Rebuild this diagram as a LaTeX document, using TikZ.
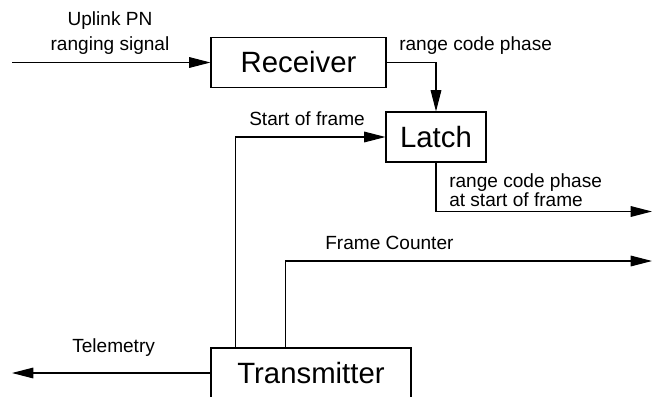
\documentclass[tikz,border=0pt]{standalone}
\usepackage{fontspec}
\setmainfont{Liberation Sans}
\usetikzlibrary{arrows.meta, positioning, calc}

\begin{document}
\begin{tikzpicture}[
    x=0.75pt, y=-0.75pt,
    blk/.style={draw, line width=0.8pt, inner sep=0pt, font=\fontsize{22}{26}\selectfont},
    sig/.style={-{Triangle[length=16pt, width=8pt]}, line width=0.8pt},
    lbl/.style={inner sep=0pt, font=\fontsize{14.3}{18.2}\selectfont},
    lbltight/.style={inner sep=0pt, align=left, font=\fontsize{14.3}{14.3}\selectfont}
]
    \useasboundingbox (0,0) rectangle (652,396);

    \node[blk, minimum width=131.25pt, minimum height=37.1pt] (rx) at (298.5,62.5) {Receiver};
    \node[blk, minimum width=75pt, minimum height=37.5pt] (latch) at (436,137) {Latch};
    \node[blk, minimum width=150pt, minimum height=37.5pt] (tx) at (311,373) {Transmitter};

    \coordinate (in) at (12,62.5);
    \coordinate (phout) at (652,211.5);
    \coordinate (fcout) at (652,261);
    \coordinate (tmout) at (12,373);

    \draw[sig] (in) -- (rx.west);
    \draw[sig] (rx.east) -| (latch.north);
    \draw[sig] ([xshift=18.75pt]tx.north west) |- (latch.west);
    \draw[sig] (latch.south) |- (phout);
    \draw[sig] ([xshift=56.25pt]tx.north west) |- (fcout);
    \draw[sig] (tx.west) -- (tmout);

    \node[lbl, align=center] (inlbl) at (110,33) {Uplink PN\\ranging signal};
    \node[lbl, anchor=base west] (phlbl) at (399,50) {range code phase};
    \node[lbl, anchor=base west] (soflbl) at (249,125.5) {Start of frame};
    \node[lbltight, anchor=north west] (outlbl) at (449,173) {range code phase\\at start of frame};
    \node[lbl, anchor=base west] (fclbl) at (325,249) {Frame Counter};
    \node[lbl, anchor=base west] (tmlbl) at (72,352) {Telemetry};
\end{tikzpicture}
\end{document}
